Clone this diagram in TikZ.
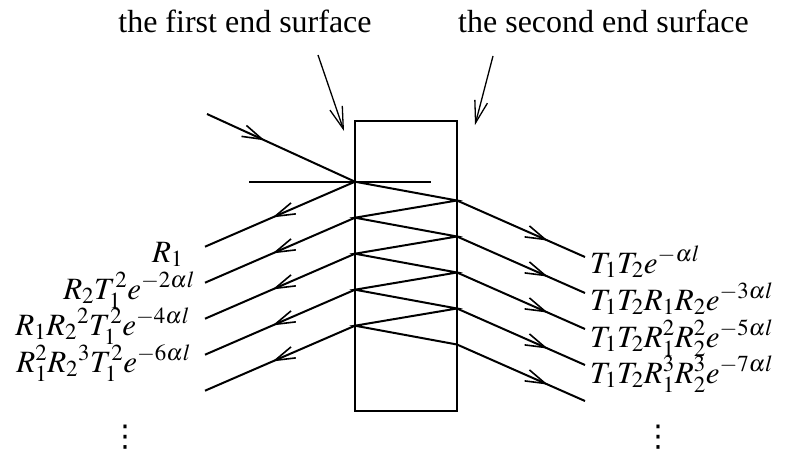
\documentclass[tikz,border=0pt]{standalone}
\usepackage{mathptmx}
\usepackage[no-math]{fontspec}
\setmainfont{Liberation Serif}
\newfontfamily\dotsfont{DejaVu Sans}
\usetikzlibrary{arrows.meta,decorations.markings}

\tikzset{
  ray/.style={line width=2pt},
  midarrow/.style={postaction={decorate},
    decoration={markings,mark=at position #1 with {\arrow{Straight Barb[length=20pt,width=12pt,line width=1.6pt]}}}},
  pointer/.style={line width=1.3pt,-{Straight Barb[length=22pt,width=13pt]}},
  eqlbl/.style={inner sep=0pt,font=\fontsize{31}{36}\selectfont},
  dotlbl/.style={inner sep=0pt,font=\dotsfont\fontsize{30}{34}\selectfont},
  toplbl/.style={inner sep=0pt,font=\fontsize{32}{38}\selectfont},
}

\begin{document}
\begin{tikzpicture}[x=1pt,y=-1pt]
  \useasboundingbox (0,0) rectangle (788,452);
  % the slab
  \draw[line width=1.7pt] (355,121) rectangle (457,411);
  \foreach \i in {0,...,4} {
    \coordinate (L\i) at (355,181.7+36*\i);
    \coordinate (R\i) at (457,200.5+36*\i);
    \coordinate (LE\i) at (205,246.7+36*\i);
    \coordinate (RE\i) at (585,257+36*\i);
  }
  \coordinate (src) at (207,114);
  \coordinate (nl) at (249,181.7);
  \coordinate (nr) at (431,181.7);

  % incident ray and normal
  \draw[ray, midarrow=0.39] (src) -- (L0);
  \draw[line width=1.8pt] (nl) -- (nr);

  % bouncing inside
  \draw[ray, line join=miter] (L0) -- (R0) -- (L1) -- (R1) -- (L2) -- (R2) -- (L3) -- (R3) -- (L4) -- (R4);

  % reflected and transmitted beams
  \foreach \i in {0,...,4} {
    \draw[ray, midarrow=0.55] (L\i) -- (LE\i);
    \draw[ray, midarrow=0.71] (R\i) -- (RE\i);
  }

  % labels
  \node[eqlbl, anchor=base west] (r1) at (152,262) {$R_1$};
  \node[eqlbl, anchor=base east] (r2) at (195,299) {$R_2T_1^2e^{-2\alpha l}$};
  \node[eqlbl, anchor=base east] (r3) at (190,335) {$R_1R_2{}^2T_1^2e^{-4\alpha l}$};
  \node[eqlbl, anchor=base east] (r4) at (191,372) {$R_1^2R_2{}^3T_1^2e^{-6\alpha l}$};
  \node[dotlbl] (rdots) at (125,437) {⋮};

  \node[eqlbl, anchor=base west] (t1) at (590,273) {$T_1T_2e^{-\alpha l}$};
  \node[eqlbl, anchor=base west] (t2) at (590,310) {$T_1T_2R_1R_2e^{-3\alpha l}$};
  \node[eqlbl, anchor=base west] (t3) at (590,347) {$T_1T_2R_1^2R_2^2e^{-5\alpha l}$};
  \node[eqlbl, anchor=base west] (t4) at (590,383) {$T_1T_2R_1^3R_2^3e^{-7\alpha l}$};
  \node[dotlbl] (tdots) at (658,437) {⋮};

  % end surfaces
  \node[toplbl, anchor=base] (first) at (245,33) {the first end surface};
  \node[toplbl, anchor=base] (second) at (603.5,33) {the second end surface};
  \coordinate (fa) at (318,55);
  \coordinate (fb) at (344,131);
  \coordinate (sa) at (493,56);
  \coordinate (sb) at (475,125);
  \draw[pointer] (fa) -- (fb);
  \draw[pointer] (sa) -- (sb);
\end{tikzpicture}
\end{document}
